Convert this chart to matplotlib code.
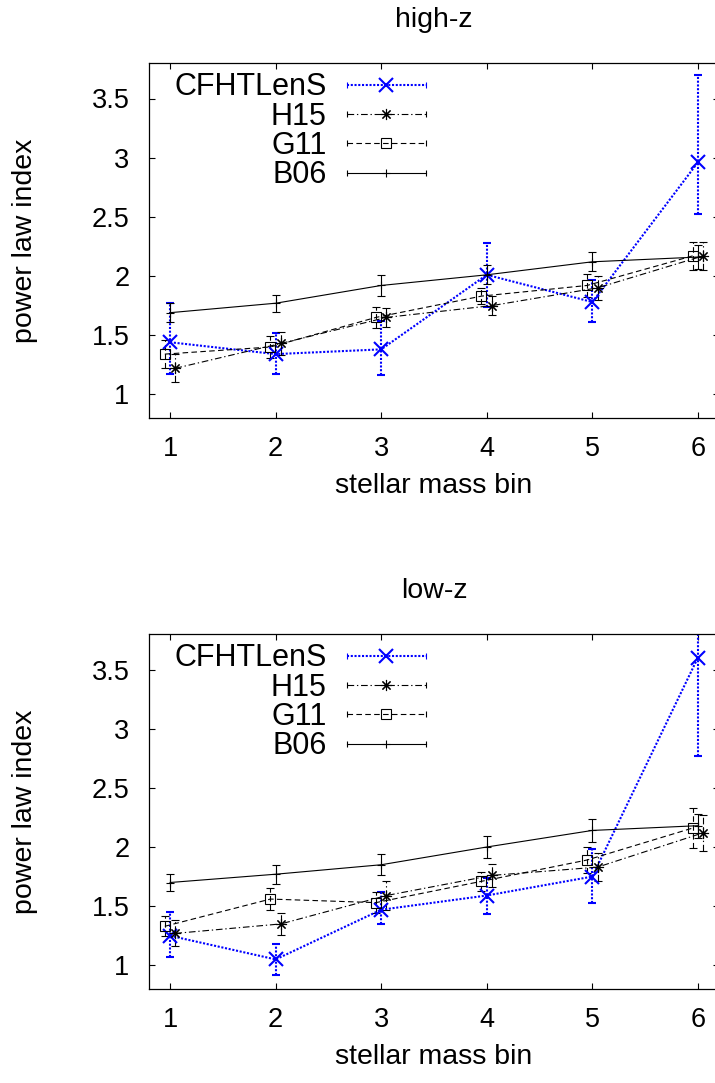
import numpy as np
import matplotlib
matplotlib.use("Agg")
import matplotlib.pyplot as plt
from matplotlib.lines import Line2D
from matplotlib.legend_handler import HandlerLine2D

plt.rcParams['font.family'] = ['Liberation Sans', 'DejaVu Sans']

# --- data ---
bins = np.array([1, 2, 3, 4, 5, 6])
labels = ["CFHTLenS", "H15", "G11", "B06"]

# high-z
hz_cfht = [1.44, 1.34, 1.38, 2.01, 1.78, 2.96]
hz_cfht_lo = [0.27, 0.17, 0.22, 0.27, 0.17, 0.44]
hz_cfht_hi = [0.33, 0.18, 0.24, 0.27, 0.19, 0.74]
hz_h15 = [1.22, 1.43, 1.65, 1.75, 1.90, 2.17]
hz_h15_err = [0.12, 0.10, 0.08, 0.08, 0.10, 0.12]
hz_g11 = [1.34, 1.40, 1.65, 1.83, 1.92, 2.17]
hz_g11_err = [0.12, 0.09, 0.09, 0.07, 0.10, 0.12]
hz_b06 = [1.69, 1.77, 1.92, 2.01, 2.12, 2.16]
hz_b06_err = [0.08, 0.07, 0.085, 0.08, 0.08, 0.10]

# low-z
lz_cfht = [1.25, 1.05, 1.47, 1.59, 1.75, 3.60]
lz_cfht_lo = [0.18, 0.13, 0.12, 0.16, 0.22, 0.83]
lz_cfht_hi = [0.20, 0.13, 0.15, 0.15, 0.23, 0.83]
lz_h15 = [1.27, 1.35, 1.59, 1.76, 1.83, 2.12]
lz_h15_err = [0.11, 0.09, 0.125, 0.095, 0.12, 0.15]
lz_g11 = [1.33, 1.56, 1.53, 1.71, 1.89, 2.16]
lz_g11_err = [0.085, 0.09, 0.09, 0.08, 0.11, 0.17]
lz_b06 = [1.70, 1.77, 1.85, 2.00, 2.14, 2.18]
lz_b06_err = [0.075, 0.08, 0.09, 0.09, 0.10, 0.10]

TICK_FS = 19.5
LABEL_FS = 20.5
KEY_FS = 22
BLUE = '#0000ff'


class CapHandler(HandlerLine2D):
    # gnuplot style key sample: line, marker in the middle, small ticks at both ends
    def create_artists(self, legend, orig_handle, xdescent, ydescent,
                       width, height, fontsize, trans):
        arts = super().create_artists(legend, orig_handle, xdescent, ydescent,
                                      width, height, fontsize, trans)
        y = (height - ydescent) / 2
        caps = Line2D([-xdescent, width - xdescent], [y, y], linestyle='none',
                      marker='|', markersize=5, markeredgewidth=0.8,
                      color=orig_handle.get_color())
        caps.set_transform(trans)
        return arts + [caps]


def panel(ax, title, cfht, cfht_lo, cfht_hi, h15, h15e, g11, g11e, b06, b06e):
    styles = [
        (bins, cfht, [cfht_lo, cfht_hi], dict(color=BLUE, lw=1.5, ls=(0, (1, 0.8)),
                                              marker='x', ms=10, mew=1.5)),
        (bins + 0.05, h15, h15e, dict(color='black', lw=0.8, ls=(0, (6, 2.5, 1.2, 2.5)),
                                      marker=(8, 2, 0), ms=8, mew=0.8)),
        (bins - 0.05, g11, g11e, dict(color='black', lw=0.8, ls=(0, (5, 3)),
                                      marker='s', ms=7, mfc='none', mew=0.8)),
        (bins, b06, b06e, dict(color='black', lw=0.8, ls='-',
                               marker='+', ms=6, mew=0.8)),
    ]
    handles = []
    for x, y, err, kw in styles:
        cont = ax.errorbar(x, y, yerr=err, capsize=3, elinewidth=kw['lw'],
                           capthick=0.8, **kw)
        cont.lines[2][0].set_linestyle(kw['ls'])
        handles.append(cont.lines[0])

    ax.set_xlim(0.8, 6.2)
    ax.set_ylim(0.8, 3.8)
    ax.set_xticks(bins)
    ax.set_yticks([1, 1.5, 2, 2.5, 3, 3.5])
    ax.set_yticklabels(['1', '1.5', '2', '2.5', '3', '3.5'])
    ax.tick_params(axis='both', direction='in', top=True, right=True,
                   length=4.5, width=0.8, labelsize=TICK_FS)
    ax.tick_params(axis='x', pad=13)
    ax.tick_params(axis='y', pad=14)
    for sp in ax.spines.values():
        sp.set_linewidth(0.9)

    ax.set_title(title, fontsize=LABEL_FS, pad=26)
    ax.set_xlabel("stellar mass bin", fontsize=LABEL_FS)
    ax.set_ylabel("power law index", fontsize=LABEL_FS)
    ax.xaxis.set_label_coords(0.5, -0.155)
    ax.yaxis.set_label_coords(-0.195, 0.5)

    ax.legend(handles, labels, handler_map={Line2D: CapHandler()},
              loc='upper right', bbox_to_anchor=(0.486, 0.974),
              frameon=False, markerfirst=False, numpoints=1, fontsize=KEY_FS,
              handlelength=2.6, handletextpad=0.65, labelspacing=-0.02,
              borderpad=0, borderaxespad=0)


fig = plt.figure(figsize=(7.15, 10.83), dpi=100)
ax1 = fig.add_axes([149 / 715, 665 / 1083, 570 / 715, 355 / 1083])
ax2 = fig.add_axes([149 / 715, 94 / 1083, 570 / 715, 355 / 1083])

panel(ax1, "high-z", hz_cfht, hz_cfht_lo, hz_cfht_hi, hz_h15, hz_h15_err,
      hz_g11, hz_g11_err, hz_b06, hz_b06_err)
panel(ax2, "low-z", lz_cfht, lz_cfht_lo, lz_cfht_hi, lz_h15, lz_h15_err,
      lz_g11, lz_g11_err, lz_b06, lz_b06_err)

fig.savefig("out.png", dpi=100)
